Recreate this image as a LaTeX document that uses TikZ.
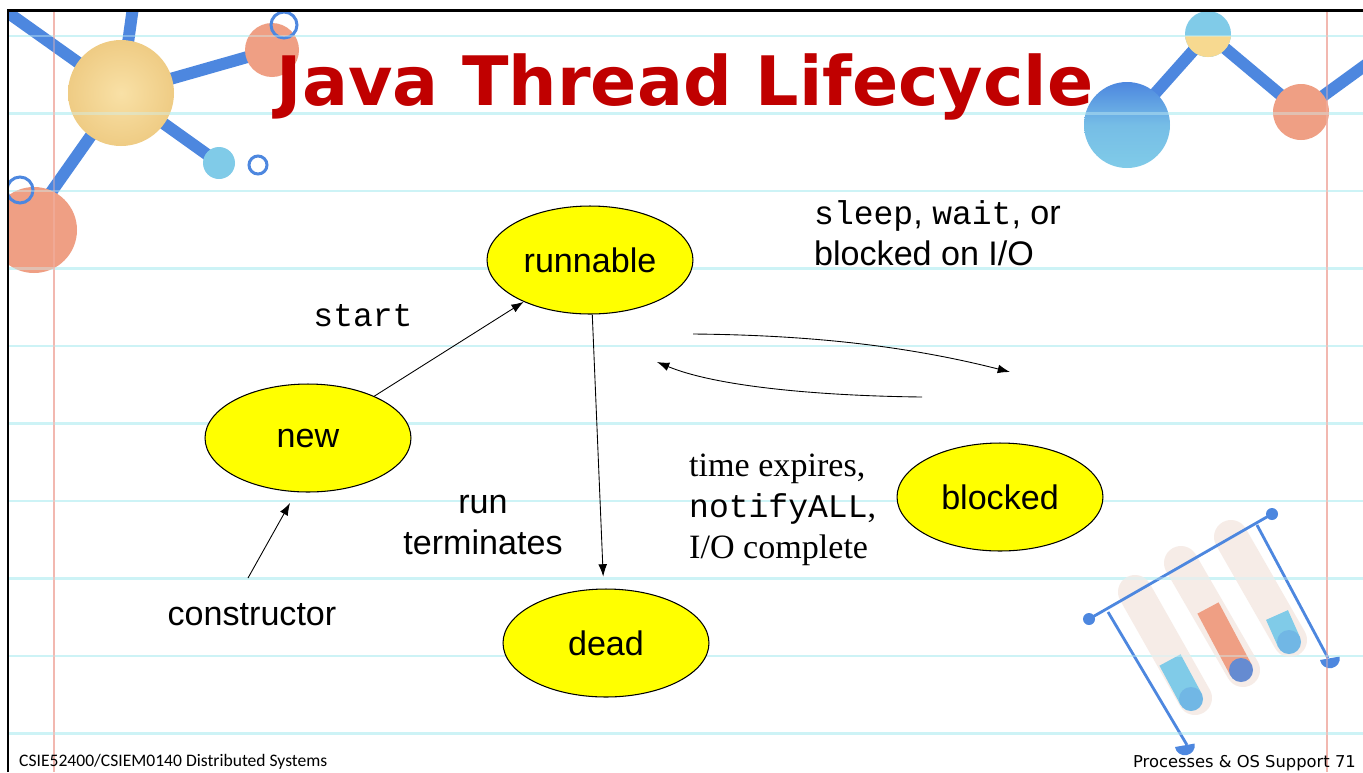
\documentclass[tikz,border=0pt]{standalone}
\usepackage{fontspec}
\setmainfont{Liberation Serif}
\setsansfont{Liberation Sans}
\setmonofont{Liberation Mono}
\newfontfamily\titlefont{DejaVu Sans}
\newfontfamily\footfont{Carlito}
\usetikzlibrary{arrows.meta,shapes.geometric,calc}

\definecolor{titlered}{HTML}{C00000}
\definecolor{stateyellow}{HTML}{FFFF00}
\definecolor{ruleblue}{HTML}{CDF3F6}
\definecolor{marginred}{HTML}{F2B8B0}
\definecolor{molblue}{HTML}{4D87DF}
\definecolor{molcyan}{HTML}{80CBE8}
\definecolor{molyellow}{HTML}{F7D990}
\definecolor{molsalmon}{HTML}{EF9F84}
\definecolor{tubebeige}{HTML}{F6ECE7}

\newcommand{\labelfont}{\fontsize{19.4}{23.5}\selectfont}
\newcommand{\code}[1]{{\ttfamily\fontsize{18.8}{23.5}\selectfont #1}}

\begin{document}
\begin{tikzpicture}[x=0.02cm,y=-0.02cm,>={Latex[length=7pt,width=5pt]},
    lifestate/.style={ellipse,draw=black,line width=0.6pt,fill=stateyellow,
                      minimum width=4.12cm,minimum height=2.16cm,inner sep=0pt,
                      font=\sffamily\labelfont},
    trans/.style={->,line width=0.5pt},
    caption/.style={font=\sffamily\labelfont,align=center},
    bond/.style={molblue,line width=6.8pt},
    ring/.style={molblue,line width=1.7pt},
    rack/.style={molblue,line width=1.6pt},
    paperrule/.style={ruleblue,line width=1.2pt},
    margin/.style={marginred,line width=0.8pt}]

  \useasboundingbox (0,0) rectangle (1363,772);
  \fill[white] (0,0) rectangle (1363,772);

  % notebook paper
  \foreach \k in {0,...,9}
    \draw[paperrule] (8,{36+77.5*\k}) -- (1363,{36+77.5*\k});
  \draw[margin] (54,10) -- (54,772);
  \draw[margin] (1327,10) -- (1327,772);

  \begin{scope}
    \clip (8,10) rectangle (1363,772);
    % molecule, top left
    \draw[bond] (121,93) -- (134,0);
    \draw[bond] (121,93) -- (0,7);
    \draw[bond] (121,93) -- (272,50);
    \draw[bond] (121,93) -- (219,163);
    \draw[bond] (121,93) -- (28,225);
    \shade[inner color=molyellow!80!white,outer color=molyellow!85!brown] (121,93) circle (53);
    \fill[molsalmon] (272,50) circle (27);
    \draw[ring] (284,25) circle (13);
    \fill[molcyan] (219,163) circle (16);
    \draw[ring] (258,165) circle (9);
    \fill[molsalmon] (34,230) circle (43);
    \draw[ring] (20,190) circle (13);

    % molecule, top right
    \draw[bond] (1127,125) -- (1208,34) -- (1301,112) -- (1400,40);
    \shade[top color=molblue,bottom color=molcyan,middle color=molcyan!80!molblue] (1127,125) circle (43);
    \fill[molcyan] (1208,34) circle (23);
    \begin{scope}
      \clip (1208,34) circle (23);
      \fill[molyellow] (1180,36) rectangle (1236,60);
    \end{scope}
    \fill[molsalmon] (1301,112) circle (28);

    % test tubes in a rack
    \foreach \tubetop/\tubebot/\liqtop/\liqbot/\liq/\dregs in
        {{(1135,592)}/{(1195,698)}/{(1170,660)}/{(1191,699)}/molcyan/molcyan!70!molblue,
         {(1181,563)}/{(1243,670)}/{(1208,608)}/{(1241,670)}/molsalmon/molblue!85!molsalmon,
         {(1231,537)}/{(1290,640)}/{(1277,615)}/{(1289,642)}/molcyan/molcyan!70!molblue} {
      \draw[tubebeige,line width=0.68cm,line cap=round] \tubetop -- \tubebot;
      \draw[\liq,line width=0.48cm] \liqtop -- \liqbot;
      \fill[\dregs] \liqbot circle (12);
    }
    \draw[rack] (1089,619) -- (1272,514);
    \fill[molblue] (1089,619) circle (6);
    \fill[molblue] (1272,514) circle (6);
    \draw[rack] (1108,612) -- (1187,745);
    \draw[rack] (1257,525) -- (1328,658);
    \fill[molblue] (1320,660) arc[start angle=170,end angle=-10,radius=10] -- cycle;
    \fill[molblue] (1175,747) arc[start angle=170,end angle=-10,radius=10] -- cycle;
  \end{scope}

  % paper lines seen through the drawings
  \begin{scope}[opacity=0.4]
    \foreach \k in {0,...,9}
      \draw[paperrule] (8,{36+77.5*\k}) -- (1363,{36+77.5*\k});
    \draw[margin] (54,10) -- (54,772);
    \draw[margin] (1327,10) -- (1327,772);
  \end{scope}

  % slide frame
  \draw[line width=1.7pt] (8,772) -- (8,10) -- (1363,10);

  \node[font=\titlefont\bfseries\fontsize{38.8}{46}\selectfont,text=titlered,anchor=base]
    (title) at (685,105) {Java Thread Lifecycle};

  % thread states
  \node[lifestate] (runnable) at (590,260) {runnable};
  \node[lifestate] (new)      at (308,438) {new};
  \node[lifestate] (blocked)  at (1000,497) {blocked};
  \node[lifestate] (dead)     at (606,643) {dead};

  \coordinate (ctortail) at (248,578);
  \coordinate (ctortip)  at (290,503);
  \coordinate (waitout)  at (693,334);
  \coordinate (waitin)   at (1010,372);
  \coordinate (wakeout)  at (922,397);
  \coordinate (wakein)   at (657,362);

  \draw[trans] (new) -- (runnable);
  \draw[trans,shorten >=0.24cm] (runnable) -- (dead);
  \draw[trans] (ctortail) -- (ctortip);
  \draw[trans] (waitout) .. controls (800,335) and (900,344) .. (waitin);
  \draw[trans] (wakeout) .. controls (830,396) and (720,388) .. (wakein);

  \node[caption] (startlbl) at (363,316) {\code{start}};
  \node[caption,align=left,anchor=west] (waitlbl) at (808,233)
    {\code{sleep}, \code{wait}, or\\blocked on I/O};
  \node[caption] (runlbl) at (483,525) {run\\terminates};
  \node[caption,font=\rmfamily\labelfont,align=left,anchor=west] (wakelbl) at (683,510)
    {time expires,\\\code{notifyALL},\\I/O complete};
  \node[caption] (ctor) at (252,615) {constructor};

  % footer
  \node[font=\footfont\fontsize{10}{12}\selectfont,anchor=base west]
    (course) at (13,766) {CSIE52400/CSIEM0140 Distributed Systems};
  \node[font=\titlefont\fontsize{9.3}{11}\selectfont,anchor=base east]
    (pagenum) at (1362,767) {Processes \& OS Support 71};
\end{tikzpicture}
\end{document}
